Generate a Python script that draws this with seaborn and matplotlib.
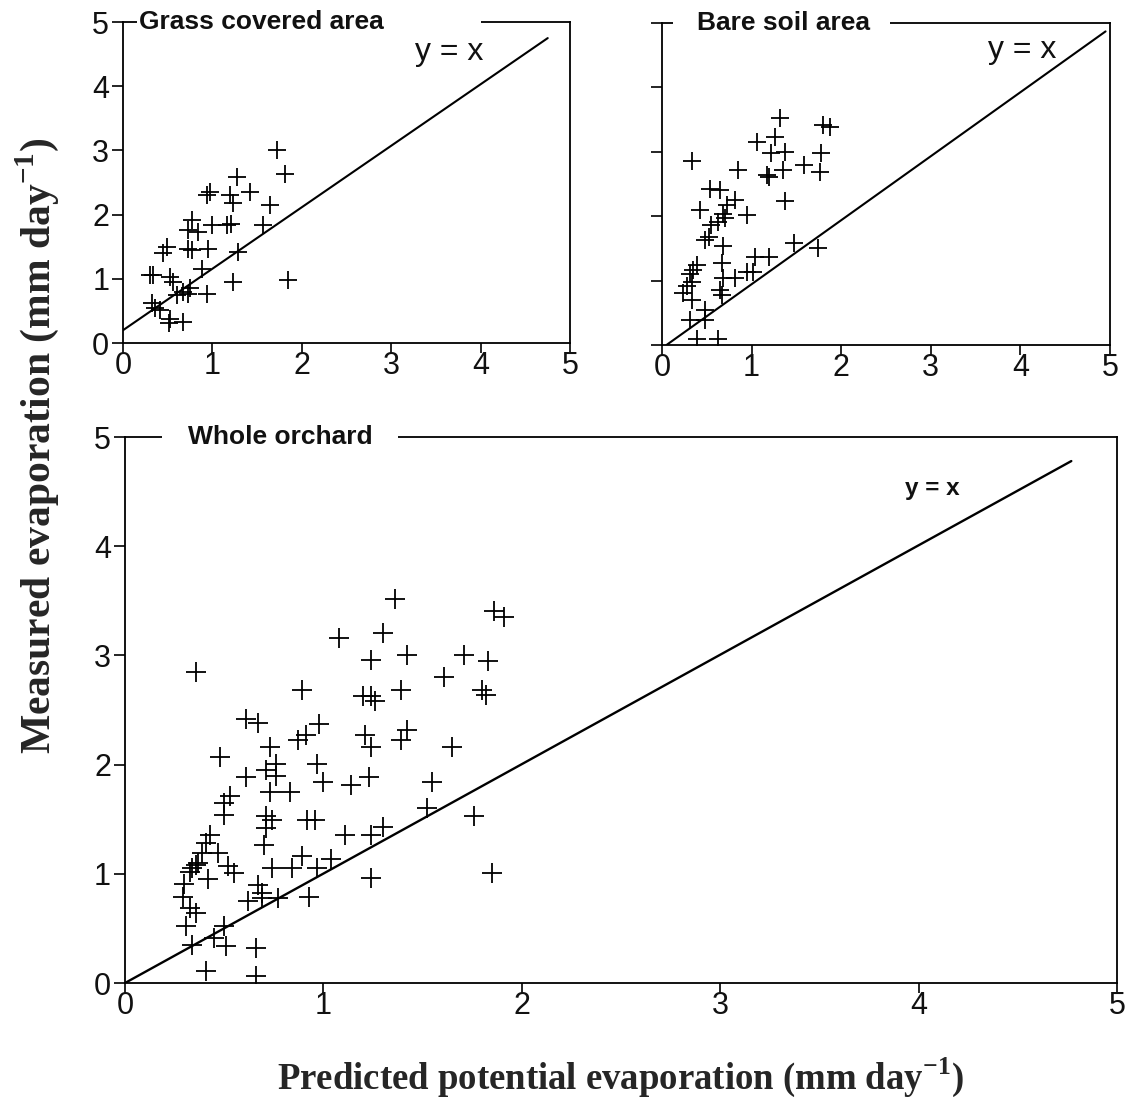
import matplotlib
matplotlib.use('Agg')
import matplotlib.pyplot as plt
from matplotlib.patches import Rectangle
import seaborn as sns

# Grass covered area (predicted, measured)
grass_x = [1.72, 1.81, 1.27, 0.94, 0.97, 1.42, 1.20, 1.23, 1.64, 0.77, 0.73, 0.84,
           0.99, 1.16, 1.21, 1.57, 0.49, 0.45, 0.73, 0.77, 0.95, 1.29, 0.30, 0.34,
           0.53, 0.56, 0.88, 1.23, 1.85, 0.67, 0.73, 0.75, 0.94, 0.60, 0.32, 0.36,
           0.41, 0.53, 0.67, 0.51]
grass_y = [3.01, 2.64, 2.59, 2.31, 2.36, 2.36, 2.31, 2.18, 2.15, 1.92, 1.76, 1.73,
           1.84, 1.84, 1.86, 1.84, 1.50, 1.40, 1.47, 1.45, 1.47, 1.42, 1.06, 1.06,
           1.03, 0.95, 1.16, 0.95, 0.98, 0.80, 0.77, 0.85, 0.77, 0.75, 0.62, 0.54,
           0.51, 0.38, 0.33, 0.31]

# Bare soil area
bare_x = [1.32, 1.80, 1.88, 1.06, 1.26, 0.33, 1.22, 1.37, 1.78, 1.58, 0.85, 1.17,
          1.19, 1.35, 1.76, 0.54, 0.65, 0.81, 0.72, 1.37, 0.42, 0.68, 0.95, 0.70,
          0.63, 0.55, 0.52, 0.48, 0.68, 1.47, 1.74, 0.67, 1.04, 1.19, 0.39, 0.35,
          0.31, 0.33, 0.28, 0.24, 0.68, 0.81, 0.95, 1.02, 0.65, 0.67, 0.33, 0.48,
          0.31, 0.48, 0.39, 0.63]
bare_y = [3.52, 3.42, 3.39, 3.16, 3.23, 2.85, 2.98, 3.00, 2.98, 2.80, 2.72, 2.64,
          2.61, 2.72, 2.69, 2.43, 2.41, 2.25, 2.17, 2.23, 2.10, 2.04, 2.02, 1.97,
          1.91, 1.86, 1.68, 1.63, 1.53, 1.58, 1.50, 1.27, 1.37, 1.37, 1.24, 1.16,
          1.11, 0.98, 0.91, 0.80, 1.04, 1.04, 1.14, 1.14, 0.85, 0.78, 0.70, 0.54,
          0.39, 0.39, 0.10, 0.09]

# Whole orchard
whole_x = [1.36, 1.86, 1.91, 1.08, 1.30, 0.36, 1.24, 1.42, 1.71, 1.83, 1.61, 0.89,
           1.20, 1.24, 1.26, 1.39, 1.80, 1.82, 0.61, 0.67, 0.98, 0.87, 0.91, 0.73,
           1.21, 1.24, 1.42, 1.39, 1.65, 0.48, 0.71, 0.76, 0.76, 0.61, 0.97, 1.00,
           1.14, 1.23, 1.55, 0.73, 0.83, 0.53, 0.50, 0.50, 1.52, 1.76, 0.71, 0.74,
           0.71, 0.92, 0.96, 0.43, 0.41, 0.70, 1.11, 1.24, 1.30, 0.39, 0.47, 0.37,
           0.34, 0.36, 0.33, 0.52, 0.55, 0.42, 0.74, 0.84, 0.89, 0.97, 1.04, 1.24,
           1.85, 0.30, 0.29, 0.67, 0.69, 0.62, 0.69, 0.77, 0.93, 0.33, 0.36, 0.31,
           0.50, 0.45, 0.34, 0.51, 0.66, 0.41, 0.66]
whole_y = [3.52, 3.41, 3.35, 3.16, 3.21, 2.85, 2.96, 3.00, 3.00, 2.95, 2.80, 2.68,
           2.63, 2.63, 2.58, 2.68, 2.68, 2.64, 2.42, 2.38, 2.37, 2.23, 2.27, 2.16,
           2.27, 2.16, 2.32, 2.23, 2.16, 2.07, 1.95, 2.01, 1.90, 1.89, 2.01, 1.84,
           1.81, 1.89, 1.84, 1.75, 1.75, 1.71, 1.65, 1.54, 1.60, 1.53, 1.53, 1.49,
           1.42, 1.49, 1.49, 1.36, 1.28, 1.26, 1.36, 1.36, 1.43, 1.19, 1.19, 1.10,
           1.05, 1.08, 1.02, 1.07, 1.01, 0.95, 1.05, 1.05, 1.16, 1.05, 1.14, 0.96,
           1.01, 0.91, 0.79, 0.90, 0.82, 0.75, 0.78, 0.78, 0.79, 0.69, 0.64, 0.52,
           0.52, 0.41, 0.35, 0.34, 0.32, 0.11, 0.06]

# 1:1 reference lines as drawn in each panel
grass_line_x = [0, 4.75]
grass_line_y = [0.2, 4.75]
bare_line_x = [0.05, 4.95]
bare_line_y = [0, 4.87]
whole_line_x = [0, 4.77]
whole_line_y = [0, 4.78]

ticks = [0, 1, 2, 3, 4, 5]

sns.set_style('ticks')
plt.rcParams['font.family'] = ['Liberation Sans', 'DejaVu Sans']

fig = plt.figure(figsize=(11.32, 10.97), dpi=100)
ax1 = fig.add_axes([0.1087, 0.6873, 0.3949, 0.2926])
ax2 = fig.add_axes([0.5848, 0.6855, 0.3958, 0.2935])
ax3 = fig.add_axes([0.1104, 0.1039, 0.8763, 0.4977])


def style_axis(ax, ylabels=True):
    ax.set_xlim(0, 5)
    ax.set_ylim(0, 5)
    ax.set_xticks(ticks)
    ax.set_yticks(ticks)
    if not ylabels:
        ax.set_yticklabels([])
    ax.tick_params(direction='out', width=1.2, labelsize=22,
                   color='black', labelcolor='#111111')
    ax.tick_params(axis='x', length=7, pad=-1)
    ax.tick_params(axis='y', length=8, pad=2)
    for s in ax.spines.values():
        s.set_visible(True)
        s.set_linewidth(1.3)
        s.set_color('black')
    ax.set_xlabel('')
    ax.set_ylabel('')


def panel_title(ax, text, gap0, gap1, tx, size):
    ax.add_patch(Rectangle((gap0, 0.98), gap1 - gap0, 0.04, transform=ax.transAxes,
                           facecolor='white', edgecolor='none', clip_on=False, zorder=5))
    ax.text(tx, 1.0, text, transform=ax.transAxes, ha='left', va='center',
            fontsize=size, fontweight='bold', color='#111111', zorder=6, clip_on=False)


# Grass covered area
sns.scatterplot(x=grass_x, y=grass_y, marker='+', s=170, color='black',
                linewidth=1.3, ax=ax1)
sns.lineplot(x=grass_line_x, y=grass_line_y, color='black', linewidth=1.5, ax=ax1)
style_axis(ax1)
panel_title(ax1, 'Grass covered area', 0.031, 0.80, 0.035, 19)
ax1.text(3.65, 4.53, 'y = x', ha='center', va='center', fontsize=23, color='#111111')

# Bare soil area
sns.scatterplot(x=bare_x, y=bare_y, marker='+', s=170, color='black',
                linewidth=1.3, ax=ax2)
sns.lineplot(x=bare_line_x, y=bare_line_y, color='black', linewidth=1.5, ax=ax2)
style_axis(ax2, ylabels=False)
panel_title(ax2, 'Bare soil area', 0.025, 0.51, 0.078, 19)
ax2.text(4.02, 4.58, 'y = x', ha='center', va='center', fontsize=23, color='#111111')

# Whole orchard
sns.scatterplot(x=whole_x, y=whole_y, marker='+', s=210, color='black',
                linewidth=1.3, ax=ax3)
sns.lineplot(x=whole_line_x, y=whole_line_y, color='black', linewidth=1.7, ax=ax3)
style_axis(ax3)
panel_title(ax3, 'Whole orchard', 0.037, 0.275, 0.064, 19)
ax3.text(4.07, 4.53, 'y = x', ha='center', va='center', fontsize=17.5,
         fontweight='bold', color='#111111')

fig.text(0.033, 0.594, r'Measured evaporation (mm day$^{\mathregular{-1}}$)',
         rotation=90, ha='center', va='center', fontsize=30, fontweight='bold',
         family=['Liberation Serif', 'DejaVu Serif'])
fig.text(0.548, 0.018, r'Predicted potential evaporation (mm day$^{\mathregular{-1}}$)',
         ha='center', va='center', fontsize=26.5, fontweight='bold',
         family=['Liberation Serif', 'DejaVu Serif'])

fig.savefig('out.png', dpi=100, facecolor='white')
